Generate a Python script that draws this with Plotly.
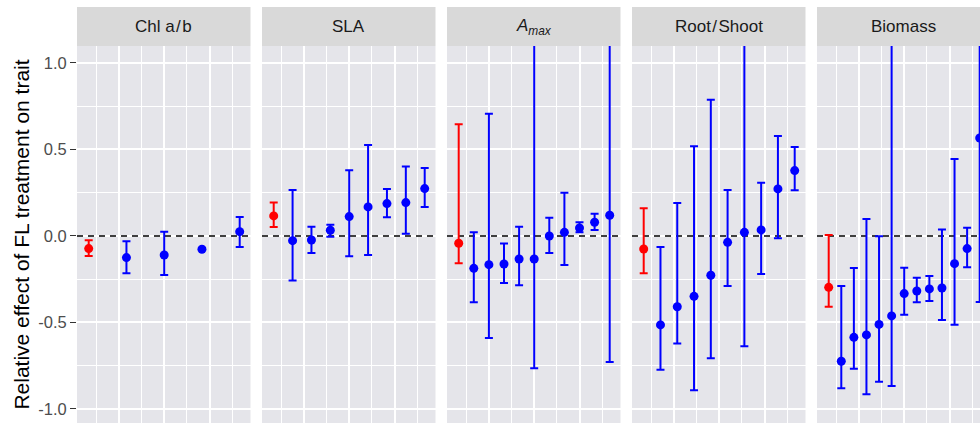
import plotly.graph_objects as go

# ---- data ----
panel_labels = ["Chl a\u200a/\u200ab", "SLA", "<i>A</i><sub><i>max</i></sub>", "Root\u200a/\u200aShoot", "Biomass"]

chl_est = [-0.073, -0.125, -0.110, -0.077, 0.025]
chl_lo = [-0.116, -0.216, -0.225, -0.077, -0.064]
chl_hi = [-0.025, -0.031, 0.025, -0.077, 0.110]

sla_est = [0.116, -0.027, -0.023, 0.033, 0.112, 0.168, 0.187, 0.193, 0.274]
sla_lo = [0.052, -0.258, -0.098, -0.004, -0.117, -0.110, 0.108, 0.013, 0.168]
sla_hi = [0.193, 0.266, 0.054, 0.065, 0.380, 0.526, 0.272, 0.401, 0.393]

amax_est = [-0.042, -0.187, -0.166, -0.162, -0.133, -0.133, 0.000, 0.021, 0.046, 0.079, 0.120]
amax_lo = [-0.158, -0.383, -0.590, -0.272, -0.285, -0.765, -0.098, -0.168, 0.021, 0.035, -0.728]
amax_hi = [0.646, 0.021, 0.707, -0.044, 0.054, 1.400, 0.106, 0.250, 0.079, 0.129, 1.500]

rs_est = [-0.075, -0.514, -0.409, -0.349, -0.227, -0.037, 0.021, 0.035, 0.272, 0.378]
rs_lo = [-0.216, -0.773, -0.622, -0.892, -0.707, -0.289, -0.638, -0.220, -0.013, 0.264]
rs_hi = [0.160, -0.064, 0.191, 0.518, 0.788, 0.266, 1.300, 0.308, 0.578, 0.514]

bio_est = [-0.297, -0.724, -0.586, -0.572, -0.511, -0.462, -0.333, -0.318, -0.306, -0.301, -0.160, -0.073, 0.566]
bio_lo = [-0.409, -0.880, -0.767, -0.915, -0.842, -0.867, -0.455, -0.383, -0.376, -0.486, -0.513, -0.181, -0.382]
bio_hi = [0.006, -0.289, -0.185, 0.098, -0.002, 1.400, -0.183, -0.241, -0.231, 0.037, 0.445, 0.048, 1.500]

y_ticks = [-1.0, -0.5, 0.0, 0.5, 1.0]
y_tick_text = ["-1.0", "-0.5", "0.0", "0.5", "1.0"]
y_minor = [-0.75, -0.25, 0.25, 0.75]
x_major = [0.2, 0.5, 0.8]
x_minor = [0.05, 0.35, 0.65, 0.95]

series = [
    (chl_est, chl_lo, chl_hi),
    (sla_est, sla_lo, sla_hi),
    (amax_est, amax_lo, amax_hi),
    (rs_est, rs_lo, rs_hi),
    (bio_est, bio_lo, bio_hi),
]

# ---- layout geometry ----
W, H = 980, 423
TOP = 46
STRIP_TOP = 7
plot_h = H - TOP
panel_left = [77, 262, 447, 632, 817]
panel_w = 173.5
data_px = 151.0          # pixels per x unit
x0 = -0.0775
font = "Liberation Sans, Arial, sans-serif"
RED, BLUE = "#FF0000", "#0000FF"

fig = go.Figure()
layout = dict(
    width=W, height=H,
    margin=dict(l=0, r=0, t=TOP, b=0),
    paper_bgcolor="white",
    plot_bgcolor="#E5E5EA",
    showlegend=False,
    font=dict(family=font),
    shapes=[], annotations=[],
)

for k, (est, lo, hi) in enumerate(series):
    n = len(est)
    xs = [i / (n - 1) for i in range(n)]
    sx = "" if k == 0 else str(k + 1)
    xa, ya = "x" + sx, "y" + sx
    for idx_set, col in (([0], RED), (list(range(1, n)), BLUE)):
        fig.add_trace(go.Scatter(
            x=[xs[i] for i in idx_set], y=[est[i] for i in idx_set],
            mode="markers", xaxis=xa, yaxis=ya,
            marker=dict(color=col, size=9),
            error_y=dict(type="data", symmetric=False,
                         array=[hi[i] - est[i] for i in idx_set],
                         arrayminus=[est[i] - lo[i] for i in idx_set],
                         color=col, thickness=2, width=4),
            hoverinfo="skip",
        ))
    left = panel_left[k]
    right = min(left + panel_w, W)
    xr = [x0, x0 + (right - left) / data_px]
    layout["xaxis" + sx] = dict(
        domain=[left / W, right / W], range=xr, anchor=ya,
        tickvals=x_major, showticklabels=False, ticks="",
        showgrid=True, gridcolor="white", gridwidth=1.6, zeroline=False,
        minor=dict(tickvals=x_minor, showgrid=True, gridcolor="white", gridwidth=0.8, ticks=""),
        showline=False,
    )
    yd = dict(
        domain=[0, 1], range=[-1.081, 1.098], anchor=xa,
        tickvals=y_ticks, ticktext=y_tick_text,
        showgrid=True, gridcolor="white", gridwidth=1.6, zeroline=False,
        minor=dict(tickvals=y_minor, showgrid=True, gridcolor="white", gridwidth=0.8, ticks=""),
        showline=False,
    )
    if k == 0:
        yd.update(ticks="outside", ticklen=6, tickwidth=1.2, tickcolor="#333333",
                  tickfont=dict(size=16.5, color="#4D4D4D", family=font),
                  title=dict(text="Relative effect of FL treatment on trait",
                             font=dict(size=21, color="black", family=font), standoff=2),
                  automargin=False)
    else:
        yd.update(showticklabels=False, ticks="", matches="y")
    layout["yaxis" + sx] = yd

    # zero reference line (between gridlines and data)
    layout["shapes"].append(dict(
        type="line", xref=xa, yref=ya, x0=xr[0], x1=xr[1], y0=0, y1=0,
        line=dict(color="black", width=1.5, dash="6px,5px"), layer="between",
    ))
    # facet strip
    layout["shapes"].append(dict(
        type="rect", xref="paper", yref="paper",
        x0=left / W, x1=right / W, y0=1, y1=1 + (TOP - STRIP_TOP) / plot_h,
        fillcolor="#D9D9D9", line=dict(width=0), layer="above",
    ))
    layout["annotations"].append(dict(
        text=panel_labels[k], xref="paper", yref="paper",
        x=(left + panel_w / 2) / W, y=1 + (TOP - STRIP_TOP) / 2 / plot_h,
        xanchor="center", yanchor="middle", showarrow=False,
        font=dict(size=17, color="#1A1A1A", family=font),
    ))

fig.update_layout(**layout)
fig.write_html("out.html", config={"displayModeBar": False},
               post_script="document.body.style.margin='0';")
